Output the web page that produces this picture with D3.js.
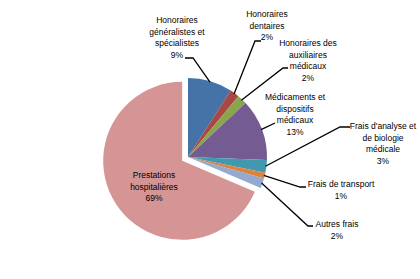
<!DOCTYPE html>
<html><head><meta charset="utf-8">
<script src="https://cdn.jsdelivr.net/npm/d3@7"></script>
<style>html,body{margin:0;padding:0;background:#fff;}svg{display:block;}</style>
</head><body>
<svg id="c" width="420" height="279"></svg>
<script>
// Data
const categories = ["Honoraires généralistes et spécialistes","Honoraires dentaires","Honoraires des auxiliaires médicaux","Médicaments et dispositifs médicaux","Frais d'analyse et de biologie médicale","Frais de transport","Autres frais","Prestations hospitalières"];
const values = [9.1, 1.9, 2.0, 12.6, 2.6, 1.2, 2.0, 68.6];
const pctLabels = ["9%","2%","2%","13%","3%","1%","2%","69%"];
const labelLines = [
  ["Honoraires","généralistes et","spécialistes"],
  ["Honoraires","dentaires"],
  ["Honoraires des","auxiliaires","médicaux"],
  ["Médicaments et","dispositifs","médicaux"],
  ["Frais d'analyse et","de biologie","médicale"],
  ["Frais de transport"],
  ["Autres frais"],
  ["Prestations","hospitalières"]
];
const colors = ["#4572A7","#AA4643","#89A54E","#745B92","#4199AF","#DB843D","#93A9CF","#D59594"];
const explode = [0,0,0,0,0,0,0,7];

// Layout (label placement)
const cx = 188, cy = 157, R = 79;
const labelPos = [
  {x:177, y:23, elbow:[193,58], end:[185,58]},
  {x:267, y:17, elbow:[255,41], end:[261,41]},
  {x:308, y:46, elbow:[283,68], end:[288,68]},
  {x:295, y:100, elbow:[275,123], end:[275,123]},
  {x:383, y:129, elbow:[340,127], end:[350,127]},
  {x:341, y:187, elbow:[300,187], end:[306,187]},
  {x:337, y:227, elbow:[308,226], end:[313,226]},
  {x:154, y:178, elbow:null, end:null}
];
const lineH = 11.6;

const svg = d3.select("#c");
const pie = d3.pie().sort(null).value(d => d).startAngle(0).endAngle(2*Math.PI);
const arcs = pie(values);
const arc = d3.arc().innerRadius(0).outerRadius(R);

const g = svg.append("g").attr("transform", `translate(${cx},${cy})`);
g.selectAll("path").data(arcs).join("path")
  .attr("d", arc)
  .attr("fill", (d,i) => colors[i])
  .attr("transform", (d,i) => {
    const m = (d.startAngle + d.endAngle)/2;
    return `translate(${explode[i]*Math.sin(m)},${-explode[i]*Math.cos(m)})`;
  });

// leader lines
arcs.forEach((d,i) => {
  const lp = labelPos[i];
  if (!lp.elbow) return;
  const m = (d.startAngle + d.endAngle)/2;
  const px = cx + (R-1)*Math.sin(m), py = cy - (R-1)*Math.cos(m);
  svg.append("polyline")
    .attr("points", [[px,py], lp.elbow, lp.end].map(p => p.join(",")).join(" "))
    .attr("fill","none").attr("stroke","#000").attr("stroke-width", 1.3);
});

// labels
arcs.forEach((d,i) => {
  const lp = labelPos[i];
  const t = svg.append("text")
    .attr("x", lp.x).attr("y", lp.y)
    .attr("text-anchor","middle")
    .attr("font-family","'Liberation Sans', Arial, sans-serif")
    .attr("font-size", 8.5)
    .attr("fill","#000");
  const lines = labelLines[i].concat([pctLabels[i]]);
  lines.forEach((s,k) => {
    t.append("tspan").attr("x", lp.x).attr("y", lp.y + k*lineH).text(s);
  });
});
</script>
</body></html>
